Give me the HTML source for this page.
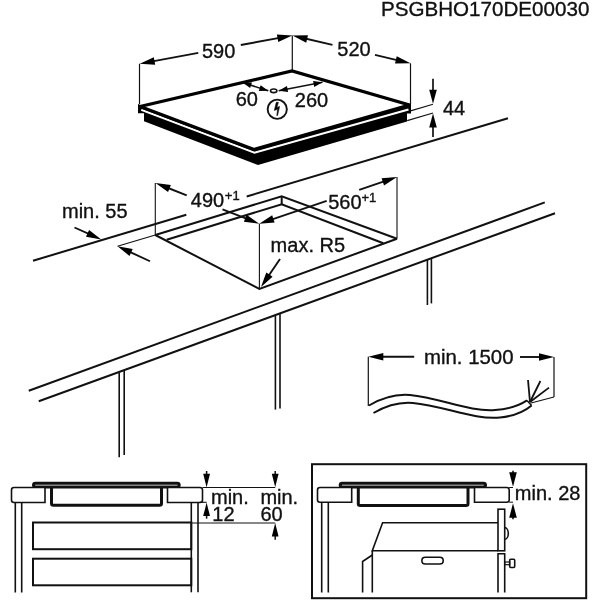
<!DOCTYPE html>
<html><head><meta charset="utf-8"><style>
html,body{margin:0;padding:0;background:#fff;}
svg{display:block;will-change:transform;}
text{font-family:"Liberation Sans",sans-serif;fill:#111;stroke:#111;stroke-width:0.35px;}
</style></head><body>
<svg width="600" height="600" viewBox="0 0 600 600" stroke="#111" stroke-linecap="butt">
<text x="381" y="16" font-size="20.6" >PSGBHO170DE00030</text>
<polygon points="138.00,104.00 254.00,147.50 411.00,104.00 411.00,113.50 407.00,113.50 407.00,121.50 258.00,165.00 144.00,121.30 144.00,113.30 138.00,113.30" fill="#000" stroke="none" stroke-width="0" />
<polyline points="141.3,109.8 254.5,152.7 408.5,109.5" fill="none" stroke-width="2.2" stroke="#fff"/>
<clipPath id="hc"><rect x="138" y="0" width="273" height="600"/></clipPath>
<polygon points="140.00,106.50 292.00,71.00 409.50,105.00 254.00,149.50" fill="#fff" stroke="#000" stroke-width="3.3" stroke-linejoin="miter" clip-path="url(#hc)"/>
<line x1="139.5" y1="63.7" x2="139.5" y2="104" stroke-width="1.2"/>
<line x1="292.3" y1="35.5" x2="292.3" y2="70" stroke-width="1.2"/>
<line x1="198.3" y1="52.9" x2="147.12" y2="62.38" stroke-width="1.9"/>
<polygon points="139.75,63.75 155.19,64.75 154.50,61.02 153.81,57.28" fill="#000" stroke="none" stroke-width="0" />
<line x1="240.8" y1="45.0" x2="284.92" y2="36.86" stroke-width="1.9"/>
<polygon points="292.30,35.50 276.86,34.48 277.55,38.22 278.24,41.96" fill="#000" stroke="none" stroke-width="0" />
<text x="202" y="57.5" font-size="20" >590</text>
<line x1="332.5" y1="44.9" x2="299.80" y2="37.22" stroke-width="1.9"/>
<polygon points="292.50,35.50 306.23,42.63 307.10,38.93 307.97,35.23" fill="#000" stroke="none" stroke-width="0" />
<line x1="375" y1="54.9" x2="403.20" y2="61.57" stroke-width="1.9"/>
<polygon points="410.50,63.30 396.78,56.15 395.90,59.85 395.03,63.54" fill="#000" stroke="none" stroke-width="0" />
<line x1="410.5" y1="63.3" x2="410.5" y2="104" stroke-width="1.2"/>
<text x="337.3" y="55.8" font-size="20" >520</text>
<line x1="242.5" y1="82.5" x2="268.3" y2="90.8" stroke-width="1.5"/>
<polygon points="242.50,82.50 250.15,88.11 251.07,85.26 251.99,82.40" fill="#000" stroke="none" stroke-width="0" />
<polygon points="268.30,90.80 260.65,85.19 259.73,88.04 258.81,90.90" fill="#000" stroke="none" stroke-width="0" />
<ellipse cx="273.7" cy="90.8" rx="3.2" ry="1.8" fill="none" stroke-width="1.6"/>
<line x1="278.7" y1="90.8" x2="322.5" y2="82.2" stroke-width="1.5"/>
<polygon points="278.70,90.80 288.11,92.01 287.53,89.07 286.95,86.12" fill="#000" stroke="none" stroke-width="0" />
<polygon points="322.50,82.20 313.09,80.99 313.67,83.93 314.25,86.88" fill="#000" stroke="none" stroke-width="0" />
<text x="235.7" y="106" font-size="20" >60</text>
<text x="294.8" y="106.5" font-size="20" >260</text>
<circle cx="277.25" cy="109.25" r="9.6" fill="none" stroke-width="1.9"/>
<polygon points="276.30,102.30 278.40,102.30 276.90,107.40 279.60,106.40 277.50,115.60 276.80,115.60 277.60,109.30 274.30,110.40" fill="#000" stroke="#111" stroke-width="0.6" />
<line x1="410.5" y1="110.9" x2="433" y2="104.3" stroke-width="1.1"/>
<line x1="407.2" y1="120.6" x2="433" y2="113" stroke-width="1.1"/>
<line x1="433" y1="78.8" x2="433.00" y2="96.80" stroke-width="1.7"/>
<polygon points="433.00,103.80 436.80,89.80 433.00,89.80 429.20,89.80" fill="#000" stroke="none" stroke-width="0" />
<line x1="433" y1="137" x2="433.00" y2="120.50" stroke-width="1.7"/>
<polygon points="433.00,113.50 429.20,127.50 433.00,127.50 436.80,127.50" fill="#000" stroke="none" stroke-width="0" />
<text x="443" y="115.3" font-size="20" >44</text>
<line x1="33" y1="260.75" x2="186.3" y2="214.75" stroke-width="2"/>
<line x1="246.7" y1="196.5" x2="508" y2="118.3" stroke-width="2"/>
<line x1="28.75" y1="390.75" x2="544.8" y2="202.4" stroke-width="2"/>
<line x1="38.75" y1="401.25" x2="555" y2="213.2" stroke-width="2"/>
<line x1="119.2" y1="372.7" x2="119.2" y2="457.3" stroke-width="1.6"/>
<line x1="124.2" y1="370.8" x2="124.2" y2="455" stroke-width="1.6"/>
<line x1="275.4" y1="316" x2="275.4" y2="409.6" stroke-width="1.6"/>
<line x1="280" y1="314" x2="280" y2="408.4" stroke-width="1.6"/>
<line x1="427.4" y1="260" x2="427.4" y2="305" stroke-width="1.6"/>
<line x1="431.4" y1="258.6" x2="431.4" y2="303.4" stroke-width="1.6"/>
<line x1="74.5" y1="227.5" x2="94.41" y2="236.43" stroke-width="1.9"/>
<polygon points="101.25,239.50 89.12,229.89 87.56,233.36 86.01,236.83" fill="#000" stroke="none" stroke-width="0" />
<line x1="150" y1="261.25" x2="124.31" y2="249.39" stroke-width="1.9"/>
<polygon points="117.50,246.25 129.53,255.99 131.12,252.54 132.71,249.09" fill="#000" stroke="none" stroke-width="0" />
<line x1="117.5" y1="246.25" x2="155.3" y2="235" stroke-width="1.1"/>
<text x="62" y="218.25" font-size="20" >min. 55</text>
<polyline points="155.3,235 281.7,196.3 397,238.7" fill="none" stroke-width="2" />
<polyline points="155.3,235 259.4,289 397,238.7" fill="none" stroke-width="2" />
<line x1="281.7" y1="196.3" x2="281.7" y2="204.2" stroke-width="2"/>
<polyline points="166.7,239.7 281.7,204.2 383.3,243.3" fill="none" stroke-width="2" />
<line x1="155.3" y1="183" x2="155.3" y2="235" stroke-width="1.1"/>
<line x1="397" y1="177" x2="397" y2="238.7" stroke-width="1.1"/>
<line x1="259.4" y1="223.7" x2="259.4" y2="289" stroke-width="1.1"/>
<line x1="186.7" y1="195.3" x2="162.48" y2="185.75" stroke-width="1.9"/>
<polygon points="155.50,183.00 168.06,192.04 169.45,188.50 170.85,184.97" fill="#000" stroke="none" stroke-width="0" />
<line x1="222.5" y1="209.3" x2="252.22" y2="220.96" stroke-width="1.9"/>
<polygon points="259.20,223.70 246.62,214.68 245.24,218.22 243.85,221.76" fill="#000" stroke="none" stroke-width="0" />
<line x1="326.7" y1="200.8" x2="266.30" y2="221.29" stroke-width="1.9"/>
<polygon points="259.20,223.70 274.63,222.48 273.40,218.88 272.18,215.28" fill="#000" stroke="none" stroke-width="0" />
<line x1="359.2" y1="189.8" x2="389.90" y2="179.41" stroke-width="1.9"/>
<polygon points="397.00,177.00 381.57,178.21 382.79,181.81 384.01,185.41" fill="#000" stroke="none" stroke-width="0" />
<text x="190.8" y="207" font-size="20" >490</text>
<text x="224.8" y="199.7" font-size="13" >+1</text>
<text x="328.2" y="208.7" font-size="20" >560</text>
<text x="361.5" y="201.5" font-size="13" >+1</text>
<line x1="280" y1="259" x2="265.21" y2="280.79" stroke-width="1.9"/>
<polygon points="261.00,287.00 272.57,276.72 269.42,274.59 266.28,272.45" fill="#000" stroke="none" stroke-width="0" />
<text x="270.6" y="252" font-size="20" >max. R5</text>
<line x1="368.3" y1="356.7" x2="368.3" y2="406" stroke-width="1.2"/>
<line x1="414.2" y1="356.7" x2="375.80" y2="356.70" stroke-width="1.9"/>
<polygon points="368.30,356.70 383.30,360.50 383.30,356.70 383.30,352.90" fill="#000" stroke="none" stroke-width="0" />
<line x1="520" y1="357" x2="546.50" y2="357.00" stroke-width="1.9"/>
<polygon points="554.00,357.00 539.00,353.20 539.00,357.00 539.00,360.80" fill="#000" stroke="none" stroke-width="0" />
<line x1="554" y1="357" x2="554" y2="397" stroke-width="1.2"/>
<line x1="554" y1="397" x2="531" y2="403" stroke-width="1.2"/>
<text x="424" y="364" font-size="20.4" >min. 1500</text>
<path d="M369,405.5 C385,396 398,394 410,395 C440,398 470,412 495,410 C510,409 520,405 527,400.4" fill="none" stroke-width="2"/>
<path d="M373.5,413 C389,404 402,402 413,403 C444,406 474,420 500,417.5 C515,416 525,411 531.6,405.5" fill="none" stroke-width="2"/>
<line x1="527" y1="400.4" x2="531.6" y2="405.5" stroke-width="1.5"/>
<line x1="530" y1="402" x2="528" y2="380" stroke-width="1.8"/>
<line x1="530" y1="402" x2="540.4" y2="381" stroke-width="1.8"/>
<line x1="530" y1="402" x2="549" y2="387.6" stroke-width="1.8"/>
<rect x="33.5" y="483.15" width="145.7" height="3.9" rx="2" fill="#fff" stroke-width="3"/>
<path d="M51.5,488 V503.5 Q51.5,505.3 53.5,505.3 H159.5 Q161.5,505.3 161.5,503.5 V488" fill="none" stroke-width="3"/>
<path d="M45,487.5 H14 Q11.5,487.5 11.5,490 V500 Q11.5,502.5 14,502.5 H45 Z" fill="#fff" stroke-width="1.6"/>
<path d="M167.5,487.5 H200 Q202.5,487.5 202.5,490 V500 Q202.5,502.5 200,502.5 H167.5 Z" fill="#fff" stroke-width="1.6"/>
<line x1="15.3" y1="502.5" x2="15.3" y2="592.5" stroke-width="1.6"/>
<line x1="21.7" y1="502.5" x2="21.7" y2="592.5" stroke-width="1.6"/>
<line x1="191.3" y1="502.5" x2="191.3" y2="592.3" stroke-width="1.6"/>
<line x1="198" y1="502.5" x2="198" y2="592.3" stroke-width="1.6"/>
<rect x="33" y="522.5" width="158.3" height="26.7" fill="none" stroke-width="2"/>
<rect x="33" y="558.7" width="158.3" height="26.6" fill="none" stroke-width="2"/>
<line x1="202.5" y1="487.5" x2="275.2" y2="487.5" stroke-width="1.1"/>
<line x1="206.6" y1="471" x2="206.60" y2="480.45" stroke-width="1.5"/>
<polygon points="206.60,487.20 210.00,473.70 206.60,473.70 203.20,473.70" fill="#000" stroke="none" stroke-width="0" />
<line x1="275.2" y1="471" x2="275.20" y2="480.45" stroke-width="1.5"/>
<polygon points="275.20,487.20 278.60,473.70 275.20,473.70 271.80,473.70" fill="#000" stroke="none" stroke-width="0" />
<line x1="199.6" y1="502.3" x2="206.6" y2="502.3" stroke-width="1.1"/>
<line x1="206.6" y1="518.7" x2="206.60" y2="509.35" stroke-width="1.5"/>
<polygon points="206.60,502.60 203.20,516.10 206.60,516.10 210.00,516.10" fill="#000" stroke="none" stroke-width="0" />
<line x1="191.3" y1="523" x2="275.2" y2="523" stroke-width="1.1"/>
<line x1="275.2" y1="539.8" x2="275.20" y2="529.75" stroke-width="1.5"/>
<polygon points="275.20,523.00 271.80,536.50 275.20,536.50 278.60,536.50" fill="#000" stroke="none" stroke-width="0" />
<text x="211" y="503.5" font-size="20" >min.</text>
<text x="212.3" y="520.6" font-size="20" >12</text>
<text x="260.4" y="503.5" font-size="20" >min.</text>
<text x="260.4" y="520.6" font-size="20" >60</text>
<rect x="312" y="464.2" width="274.2" height="134" fill="none" stroke-width="2"/>
<rect x="340.2" y="483.15" width="145.3" height="3.9" rx="2" fill="#fff" stroke-width="3"/>
<path d="M358.3,488 V503.8 Q358.3,505.6 360.3,505.6 H466 Q468,505.6 468,503.8 V488" fill="none" stroke-width="3"/>
<path d="M351.7,487.5 H320 Q317.5,487.5 317.5,490 V500 Q317.5,502.2 320,502.2 H351.7 Z" fill="#fff" stroke-width="1.6"/>
<path d="M474.5,487.5 H506.7 Q509.2,487.5 509.2,490 V500 Q509.2,502.2 506.7,502.2 H474.5 Z" fill="#fff" stroke-width="1.6"/>
<line x1="321.7" y1="502.2" x2="321.7" y2="592.5" stroke-width="1.6"/>
<line x1="328.3" y1="502.2" x2="328.3" y2="592.5" stroke-width="1.6"/>
<line x1="509.2" y1="487.5" x2="513" y2="487.5" stroke-width="1"/>
<line x1="509.2" y1="502.2" x2="513" y2="502.2" stroke-width="1"/>
<line x1="513" y1="470.8" x2="513.00" y2="479.45" stroke-width="1.6"/>
<polygon points="513.00,486.70 516.80,472.20 513.00,472.20 509.20,472.20" fill="#000" stroke="none" stroke-width="0" />
<line x1="513" y1="519.2" x2="513.00" y2="510.55" stroke-width="1.6"/>
<polygon points="513.00,503.30 509.20,517.80 513.00,517.80 516.80,517.80" fill="#000" stroke="none" stroke-width="0" />
<text x="514.8" y="500" font-size="20" >min. 28</text>
<polyline points="497.9,522.7 382.6,522.7 372.3,550.7 497.9,550.7" fill="none" stroke-width="1.6" />
<line x1="372.3" y1="550.7" x2="372.3" y2="592.5" stroke-width="1.6"/>
<polyline points="372.3,555 362.6,561.5 362.6,592.5" fill="none" stroke-width="1.6" />
<rect x="421.9" y="557.3" width="21.3" height="6.7" rx="3.3" fill="none" stroke-width="1.6"/>
<rect x="498" y="509.2" width="6.7" height="41.6" fill="none" stroke-width="1.6"/>
<path d="M504.7,527.6 A3.6,5.8 0 0 1 504.7,539.2" fill="none" stroke-width="1.6"/>
<polyline points="498,592.5 498,553.7 504.7,553.7 504.7,592.5" fill="none" stroke-width="1.6" />
<rect x="504.7" y="562" width="5" height="2.7" fill="none" stroke-width="1.2"/>
<rect x="509.7" y="559.2" width="5" height="8.3" rx="1" fill="none" stroke-width="1.6"/>
</svg>
</body></html>
